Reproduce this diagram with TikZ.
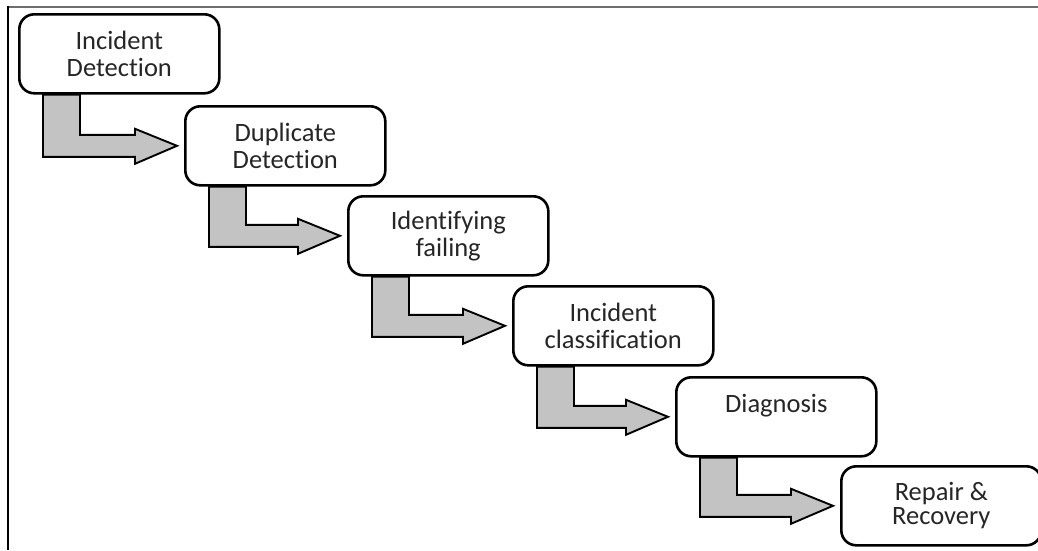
\documentclass[tikz,border=0pt]{standalone}
\usepackage{fontspec}
\setmainfont{Carlito}[Ligatures=NoCommon]
\usetikzlibrary{calc}
\pgfdeclarelayer{background}
\pgfsetlayers{background,main}
\definecolor{txt}{HTML}{262626}
\definecolor{arrfill}{HTML}{C3C3C3}
\definecolor{topline}{HTML}{6E6E6E}
\tikzset{
  stepbox/.style={draw=black, line width=2.6pt, rounded corners=15pt, fill=white,
    minimum width=200pt, minimum height=79pt, inner sep=0pt, anchor=north west,
    align=center, text=txt, font=\fontsize{26.5}{27}\selectfont},
  bentarrow/.style={draw=black, line width=1.9pt, fill=arrfill, line join=miter}
}
\newcommand{\bent}[2]{%
  \draw[bentarrow] ($(#1.south west)+(25,0)$) -- ($(#1.south west)+(62,0)$)
    |- ($(#2.west)+(-49,-11)$) -- ++(0,-6) -- ($(#2.west)+(-7,0)$)
    -- ($(#2.west)+(-49,18)$) -- ++(0,-7) -| ($(#1.south west)+(25,0)$) -- cycle;}
\begin{document}
\begin{tikzpicture}[x=1pt,y=-1pt]
\useasboundingbox (0,0) rectangle (1038,550);
\node[stepbox] (b1) at (18,13) {Incident\\Detection};
\node[stepbox] (b2) at (184,105) {Duplicate\\Detection};
\node[stepbox] (b3) at (347,195) {Identifying\\failing};
\node[stepbox] (b4) at (512,285) {Incident\\classification};
\node[stepbox] (b5) at (675,376) {Diagnosis\\\mbox{}};
\node[stepbox] (b6) at (840,465) {\raisebox{-5pt}{\shortstack{Repair \&\\[0pt]Recovery}}};
\begin{pgfonlayer}{background}
\fill[white] (0,0) rectangle (1038,550);
\draw[topline, line width=2pt] (8,7) -- (1038,7);
\draw[black, line width=1.8pt] (8,6) -- (8,550);
\bent{b1}{b2}
\bent{b2}{b3}
\bent{b3}{b4}
\bent{b4}{b5}
\bent{b5}{b6}
\end{pgfonlayer}
\end{tikzpicture}
\end{document}
